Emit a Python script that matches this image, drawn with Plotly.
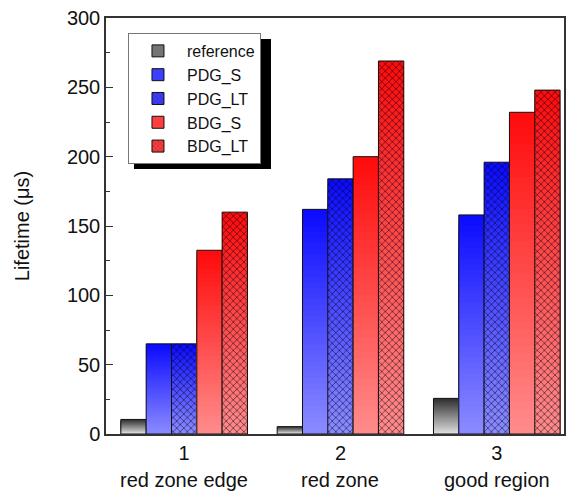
import plotly.graph_objects as go

# ---- data ----
groups = [1, 2, 3]
group_labels = ["1", "2", "3"]
region_names = ["red zone edge", "red zone", "good region"]
series_names = ["reference", "PDG_S", "PDG_LT", "BDG_S", "BDG_LT"]
reference = [10.5, 5.3, 25.7]
pdg_s = [65, 162, 158]
pdg_lt = [65, 184, 196]
bdg_s = [132.5, 200, 232]
bdg_lt = [160, 269, 248]

series_values = [reference, pdg_s, pdg_lt, bdg_s, bdg_lt]
# (top colour, bottom colour, hatched)
styles = [
    ((45, 45, 45), (225, 225, 225), False),
    ((10, 10, 255), (140, 140, 255), False),
    ((10, 10, 255), (140, 140, 255), True),
    ((255, 10, 10), (255, 140, 140), False),
    ((255, 10, 10), (255, 140, 140), True),
]

FONT = "Arial, Liberation Sans, sans-serif"
N = 40


def mix(a, b, t):
    return "rgb(%d,%d,%d)" % tuple(round(a[j] + (b[j] - a[j]) * t) for j in range(3))


fig = go.Figure()

for i, (name, vals) in enumerate(zip(series_names, series_values)):
    top, bot, hatched = styles[i]
    og = str(i)
    # gradient body: nested bars from the base, each shorter and lighter
    for k in range(N):
        frac = (N - k) / N
        t = (N - k - 0.5) / N  # 1 top -> 0 bottom
        fig.add_trace(go.Bar(
            x=groups, y=[v * frac for v in vals],
            offsetgroup=og, marker=dict(color=mix(bot, top, t), line=dict(width=0)),
            showlegend=False, hoverinfo="skip"))
    # outline / hatch overlay
    pat = dict(shape="x", fgcolor="rgba(0,0,20,0.85)", bgcolor="rgba(0,0,0,0)",
               size=5, solidity=0.22, fillmode="replace") if hatched else dict(shape="")
    fig.add_trace(go.Bar(
        x=groups, y=vals, offsetgroup=og, name=name,
        marker=dict(color="rgba(0,0,0,0)", line=dict(color="#111", width=1), pattern=pat),
        showlegend=False))
    # legend proxy
    lpat = dict(shape="x", fgcolor="rgba(0,0,20,0.85)", size=4, solidity=0.25,
                fillmode="overlay") if hatched else dict(shape="")
    fig.add_trace(go.Bar(
        x=[groups[0]], y=[None], offsetgroup=og, name=name,
        marker=dict(color=mix(bot, top, 0.6), line=dict(color="#111", width=1), pattern=lpat),
        showlegend=True))

annotations = []
for g, r in zip(groups, region_names):
    annotations.append(dict(x=g, y=0, xref="x", yref="y", text=r, showarrow=False,
                            yanchor="top", yshift=-33, font=dict(size=20, family=FONT, color="#111")))

legend_x = 0.048
legend_y = 0.964
fig.update_layout(
    width=569, height=491,
    margin=dict(l=106, r=3, t=18, b=57),
    paper_bgcolor="white", plot_bgcolor="white",
    barmode="group", bargap=0.19, bargroupgap=0,
    font=dict(family=FONT, size=20, color="#111"),
    annotations=annotations,
    legend=dict(x=legend_x, y=legend_y, xanchor="left", yanchor="top",
                bgcolor="white", bordercolor="#777", borderwidth=1,
                font=dict(size=16, family=FONT, color="#111"),
                tracegroupgap=0, itemwidth=48),
    shapes=[dict(type="rect", xref="paper", yref="paper", xsizemode="pixel", ysizemode="pixel",
                 xanchor=legend_x, yanchor=legend_y, x0=6, x1=6 + 137, y0=-6, y1=-6 - 130,
                 fillcolor="black", line=dict(width=0), layer="above")],
    xaxis=dict(range=[0.5, 3.43], tickvals=groups, ticktext=group_labels, ticks="",
               showline=True, linecolor="#333", linewidth=1.5, mirror=True,
               showgrid=False, zeroline=False, tickfont=dict(size=20)),
    yaxis=dict(range=[0, 300], dtick=50, ticks="inside", ticklen=7, tickwidth=1.2,
               tickcolor="#333", showline=True, linecolor="#333", linewidth=1.5, mirror=True,
               showgrid=False, zeroline=False, tickfont=dict(size=20),
               minor=dict(dtick=25, ticks="inside", ticklen=4, tickcolor="#333"),
               title=dict(text="Lifetime (μs)", font=dict(size=20), standoff=32)),
)

fig.write_html("out.html", post_script="document.body.style.margin='0';",
               config={"displayModeBar": False})
